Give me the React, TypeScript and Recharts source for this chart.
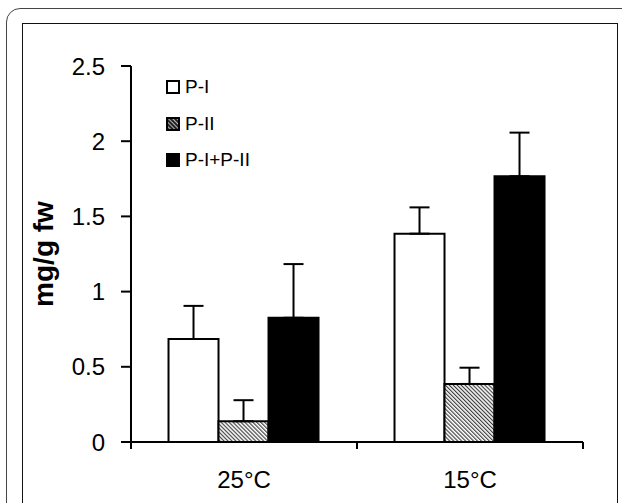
import React from "react";
import { BarChart, Bar, XAxis, YAxis, ErrorBar, Legend } from "recharts";

const temps = ["25°C", "15°C"];
const seriesNames = ["P-I", "P-II", "P-I+P-II"];
const pI = [0.685, 1.385];
const pIErr = [0.22, 0.175];
const pII = [0.138, 0.386];
const pIIErr = [0.14, 0.108];
const pSum = [0.826, 1.767];
const pSumErr = [0.357, 0.29];
const yTicks = [0, 0.5, 1, 1.5, 2, 2.5];

const data = temps.map((t, i) => ({
  temp: t,
  pI: pI[i],
  pIErr: [0, pIErr[i]],
  pII: pII[i],
  pIIErr: [0, pIIErr[i]],
  pSum: pSum[i],
  pSumErr: [0, pSumErr[i]],
}));

const font = "'Liberation Sans', Arial, sans-serif";
const X_TICK_SIZE = 7;
const X_TICK_MARGIN = 22;

function TempTick(props: any) {
  const { x, y, payload, index, visibleTicksCount } = props;
  const half = payload && typeof payload.offset === "number" ? payload.offset : 0;
  const axisY = y - X_TICK_SIZE - X_TICK_MARGIN;
  return (
    <g>
      {half > 0 && (
        <line x1={x - half} x2={x - half} y1={axisY} y2={axisY + X_TICK_SIZE} stroke="#000" strokeWidth={2} />
      )}
      {half > 0 && index === visibleTicksCount - 1 && (
        <line x1={x + half} x2={x + half} y1={axisY} y2={axisY + X_TICK_SIZE} stroke="#000" strokeWidth={2} />
      )}
      <text x={x} y={y} dy="0.71em" textAnchor="middle" fontSize={24} fontFamily={font} fill="#000">
        {payload.value}
      </text>
    </g>
  );
}

function LegendBox(props: any) {
  const items = [...(props.payload || [])].sort(
    (a: any, b: any) => seriesNames.indexOf(a.value) - seriesNames.indexOf(b.value),
  );
  return (
    <div style={{ fontFamily: font, fontSize: 19, color: "#000" }}>
      {items.map((item: any) => (
        <div key={item.value} style={{ display: "flex", alignItems: "center", height: 36.5 }}>
          <svg width={14} height={14} style={{ marginRight: 5 }}>
            <rect
              x={1}
              y={1}
              width={12}
              height={12}
              fill={item.color === "url(#hatch)" ? "url(#hatchIcon)" : item.color}
              stroke="#000"
              strokeWidth={2}
            />
          </svg>
          <span>{item.value}</span>
        </div>
      ))}
    </div>
  );
}

export default function App() {
  return (
    <div style={{ position: "absolute", left: 0, top: 0, width: 622, height: 503, overflow: "hidden", background: "#fff" }}>
      <svg width={0} height={0} style={{ position: "absolute" }}>
        <defs>
          <pattern id="hatch" patternUnits="userSpaceOnUse" width={2.8} height={2.8} patternTransform="rotate(-45)">
            <rect width={2.8} height={2.8} fill="#fff" />
            <line x1={0.6} y1={0} x2={0.6} y2={2.8} stroke="#333" strokeWidth={1.1} />
          </pattern>
          <pattern id="hatchIcon" patternUnits="userSpaceOnUse" width={3} height={3} patternTransform="rotate(-45)">
            <rect width={3} height={3} fill="#222" />
            <line x1={0.5} y1={0} x2={0.5} y2={3} stroke="#ddd" strokeWidth={0.8} />
          </pattern>
        </defs>
      </svg>
      <div style={{ position: "absolute", left: 6, top: 8, width: 660, height: 600, border: "1.5px solid #444", borderRadius: 14 }} />
      <div style={{ position: "absolute", left: 22, top: 23, width: 594, height: 600, border: "1.5px solid #111" }} />
      <div style={{ position: "absolute", left: 0, top: 0 }}>
        <BarChart
          width={622}
          height={503}
          data={data}
          margin={{ top: 66, right: 39, bottom: 21, left: 31 }}
          barCategoryGap="16.6%"
          barGap={0}
        >
          <XAxis
            dataKey="temp"
            axisLine={{ stroke: "#000", strokeWidth: 2 }}
            tickLine={false}
            tickSize={X_TICK_SIZE}
            tickMargin={X_TICK_MARGIN}
            tick={<TempTick />}
            height={40}
            interval={0}
          />
          <YAxis
            width={100}
            domain={[0, 2.5]}
            ticks={yTicks}
            axisLine={{ stroke: "#000", strokeWidth: 2 }}
            tickLine={{ stroke: "#000", strokeWidth: 2 }}
            tickSize={10}
            tickMargin={16}
            tick={{ fontSize: 24, fontFamily: font, fill: "#000" }}
            label={{
              value: "mg/g fw",
              angle: -90,
              position: "insideLeft",
              offset: 12,
              style: { textAnchor: "middle", fontSize: 28, fontWeight: "bold", fontFamily: font, fill: "#000" },
            }}
          />
          <Legend
            layout="vertical"
            align="center"
            verticalAlign="middle"
            content={<LegendBox />}
            wrapperStyle={{ left: 166, top: 69, width: "auto" }}
          />
          <Bar dataKey="pI" name="P-I" fill="#fff" stroke="#000" strokeWidth={2} isAnimationActive={false}>
            <ErrorBar dataKey="pIErr" width={10} stroke="#000" strokeWidth={2} direction="y" isAnimationActive={false} />
          </Bar>
          <Bar dataKey="pII" name="P-II" fill="url(#hatch)" stroke="#000" strokeWidth={2} isAnimationActive={false}>
            <ErrorBar dataKey="pIIErr" width={10} stroke="#000" strokeWidth={2} direction="y" isAnimationActive={false} />
          </Bar>
          <Bar dataKey="pSum" name="P-I+P-II" fill="#000" stroke="#000" strokeWidth={2} isAnimationActive={false}>
            <ErrorBar dataKey="pSumErr" width={10} stroke="#000" strokeWidth={2} direction="y" isAnimationActive={false} />
          </Bar>
        </BarChart>
      </div>
    </div>
  );
}
